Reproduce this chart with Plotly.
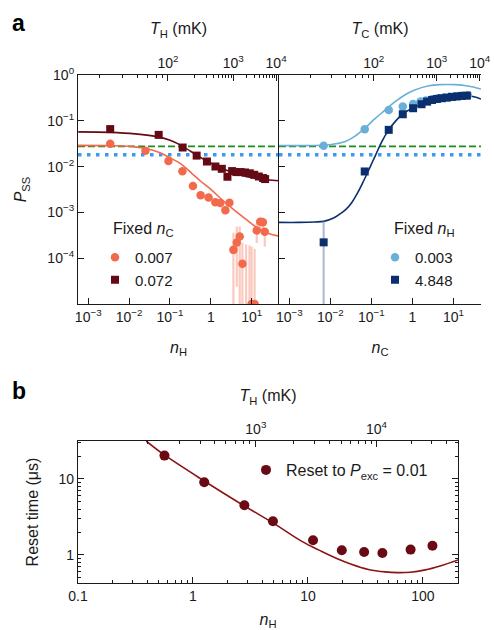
import numpy as np
import plotly.graph_objects as go

# ---------------- data: panel a, left (fixed n_C) ----------------
nH_c007 = [0.00345, 0.0252, 0.0919, 0.202, 0.365, 0.563, 0.879, 1.288, 1.707, 2.27, 2.85,
           3.57, 4.32, 5.09, 5.93, 7.3, 8.8, 9.95, 11.8, 13.3, 16.2, 18.8, 20.9]
P_c007 = [0.0314, 0.0221, 0.01318, 0.0079, 0.00378, 0.00236, 0.00212, 0.00167, 0.0016, 0.00112, 0.00163,
          1.52e-4, 2.21e-4, 2.99e-4, 7.55e-5, 3e-6, 3e-6, 1e-5, 1e-5, 4.05e-4, 6.27e-4, 6.11e-4, 3.8e-4]
P_c007_hi = [None] * 11 + [3.6e-4, 4.9e-4, 4.95e-4, 2.2e-4, 2.0e-4, 1.9e-4, 1.8e-4, 1.6e-4,
                           5.97e-4, 7.7e-4, 7.7e-4, 4.6e-4]
P_c007_lo = [None] * 11 + [1e-7, 2.4e-5, 1e-7, 1e-7, 1e-7, 1e-7, 1e-7, 1e-7,
                           2.15e-4, 4.2e-4, 4.3e-4, 1.8e-4]

nH_c072 = [0.00345, 0.053, 0.2046, 0.45, 0.803, 1.296, 1.858, 2.55, 3.32, 4.22, 5.35,
           6.9, 8.99, 11.5, 14.9, 19.0, 21.3]
P_c072 = [0.0659, 0.0493, 0.0261, 0.01738, 0.01291, 0.01005, 0.00895, 0.0060, 0.00798, 0.00759, 0.00759,
          0.00744, 0.00714, 0.00663, 0.00608, 0.00562, 0.00534]

fit_nH = [5.7e-4, 0.00345, 0.01064, 0.0248, 0.0576, 0.101, 0.1986, 0.349, 0.547, 1.017, 1.89,
          3.51, 6.9, 13.55, 25.2, 46.8]
fit_c007 = [0.0291, 0.0287, 0.0277, 0.0251, 0.0200, 0.01556, 0.01094, 0.00697, 0.00491, 0.00313, 0.00189,
            0.001175, 7.3e-4, 4.64e-4, 3.52e-4, 3.03e-4]
fit_nH2 = [5.7e-4, 0.00345, 0.0141, 0.0514, 0.101, 0.2046, 0.4375, 0.767, 1.274, 2.24, 3.93,
           6.9, 12.1, 23.8, 46.8]
fit_c072 = [0.0573, 0.0559, 0.0518, 0.0446, 0.0374, 0.0277, 0.0181, 0.01337, 0.01067, 0.00851, 0.00714,
            0.00615, 0.00556, 0.00516, 0.00491]

# ---------------- data: panel a, right (fixed n_H) ----------------
nC_h003 = [0.00687, 0.0687, 0.264, 0.58, 1.035, 1.57, 2.11, 2.96, 4.14, 5.80, 8.13, 11.4, 15.9, 22.3]
P_h003 = [0.0284, 0.0656, 0.1728, 0.204, 0.233, 0.263, 0.278, 0.296, 0.311, 0.3235, 0.335, 0.345, 0.354, 0.361]

nC_h4848 = [0.00687, 0.0687, 0.264, 0.58, 1.035, 1.66, 2.27, 3.0, 3.92, 5.19, 6.87, 9.09, 12.0, 15.9, 21.1]
P_h4848 = [2.22e-4, 0.00783, 0.0634, 0.139, 0.188, 0.23, 0.262, 0.285, 0.300, 0.311, 0.320, 0.332, 0.340, 0.349, 0.354]
P_h4848_hi = [6.4e-4] + [None] * 14
P_h4848_lo = [1e-7] + [None] * 14

fit_nC1 = [5.48e-4, 0.00313, 0.00962, 0.0223, 0.0392, 0.0687, 0.1205, 0.211, 0.370, 0.649, 1.138,
           2.36, 4.63, 10.8, 22.3, 46.3]
fit_h003 = [0.0288, 0.0288, 0.0299, 0.0347, 0.0457, 0.0683, 0.110, 0.168, 0.258, 0.367, 0.471,
            0.576, 0.615, 0.615, 0.576, 0.495]
fit_nC2 = [5.48e-4, 0.00178, 0.00414, 0.00687, 0.0120, 0.01686, 0.0236, 0.0331, 0.0463, 0.0649, 0.0910,
           0.1273, 0.178, 0.264, 0.392, 0.580, 1.017, 1.686, 2.96, 6.49, 12.7, 19.95, 31.3, 46.3]
fit_h4848 = [6.05e-4, 6.05e-4, 6.18e-4, 6.37e-4, 7.55e-4, 9.14e-4, 0.001146, 0.001626, 0.00269, 0.00491, 0.00942,
             0.0181, 0.0347, 0.0634, 0.0995, 0.1413, 0.191, 0.2275, 0.2715, 0.320, 0.349, 0.354, 0.335, 0.300]

P_green = 0.0277   # dashed reference
P_blue = 0.0181    # dotted reference

# ---------------- data: panel b ----------------
nH_b = [0.565, 1.253, 2.80, 4.96, 11.07, 19.7, 30.8, 44.4, 78.1, 121]
t_b = [20.3, 9.05, 4.51, 2.77, 1.56, 1.153, 1.094, 1.06, 1.175, 1.32]
fit_nHb = [0.392, 0.564, 1.252, 2.80, 4.96, 8.85, 12.9, 17.4, 23.5, 33.6, 47.2, 60.0, 77.7, 104.7, 141, 202]
fit_tb = [31.6, 20.7, 9.41, 4.41, 2.64, 1.505, 1.129, 0.913, 0.761, 0.644, 0.597, 0.585, 0.592, 0.635, 0.716, 0.859]

# top-axis temperature ticks (mK)
T_major = [100, 1000, 10000]
T_major_text = ['10<sup>2</sup>', '10<sup>3</sup>', '10<sup>4</sup>']
T_minor = [20, 30, 40, 50, 60, 70, 80, 90, 200, 300, 400, 500, 600, 700, 800, 900,
           2000, 3000, 4000, 5000, 6000, 7000, 8000, 9000, 20000, 30000, 40000, 50000]
hf_H = 250.0  # mK, h f_H / k_B
hf_C = 228.0  # mK, h f_C / k_B


def n_of_T(T, hf):
    return [1.0 / np.expm1(hf / t) for t in T]


# colours
C_OR = '#f26a4b'
C_MR = '#650a14'
C_LB = '#6aafd8'
C_NV = '#0b2f6e'
C_GR = '#1e8c1e'
C_BL = '#3a9af2'
C_B = '#6a0a14'
C_BL2 = '#8e1414'

FONT = 'Liberation Sans, Arial, sans-serif'
INK = '#1a1a1a'


def err(vals, hi, lo):
    plus = [0 if h is None else h - v for v, h in zip(vals, hi)]
    minus = [0 if l is None else v - l for v, l in zip(vals, lo)]
    return plus, minus


fig = go.Figure()

# ---- left panel ----
fig.add_trace(go.Scatter(x=fit_nH, y=fit_c007, mode='lines', line=dict(color=C_OR, width=1.6, shape='spline'),
                         xaxis='x', yaxis='y', showlegend=False, hoverinfo='skip'))
fig.add_trace(go.Scatter(x=fit_nH2, y=fit_c072, mode='lines', line=dict(color=C_MR, width=1.6, shape='spline'),
                         xaxis='x', yaxis='y', showlegend=False, hoverinfo='skip'))
pl, mi = err(P_c007, P_c007_hi, P_c007_lo)
fig.add_trace(go.Scatter(x=nH_c007, y=P_c007, mode='markers', name='0.007',
                         marker=dict(symbol='circle', size=8.5, color=C_OR),
                         error_y=dict(type='data', symmetric=False, array=pl, arrayminus=mi,
                                      color='rgba(246,150,128,0.5)', thickness=2.2, width=0),
                         xaxis='x', yaxis='y', legend='legend'))
fig.add_trace(go.Scatter(x=nH_c072, y=P_c072, mode='markers', name='0.072',
                         marker=dict(symbol='square', size=8, color=C_MR),
                         xaxis='x', yaxis='y', legend='legend'))

# ---- right panel ----
fig.add_trace(go.Scatter(x=fit_nC1, y=fit_h003, mode='lines', line=dict(color=C_LB, width=1.6, shape='spline'),
                         xaxis='x2', yaxis='y2', showlegend=False, hoverinfo='skip'))
fig.add_trace(go.Scatter(x=fit_nC2, y=fit_h4848, mode='lines', line=dict(color=C_NV, width=1.6, shape='spline'),
                         xaxis='x2', yaxis='y2', showlegend=False, hoverinfo='skip'))
fig.add_trace(go.Scatter(x=nC_h003, y=P_h003, mode='markers', name='0.003',
                         marker=dict(symbol='circle', size=8.5, color=C_LB),
                         xaxis='x2', yaxis='y2', legend='legend2'))
pl2, mi2 = err(P_h4848, P_h4848_hi, P_h4848_lo)
fig.add_trace(go.Scatter(x=nC_h4848, y=P_h4848, mode='markers', name='4.848',
                         marker=dict(symbol='square', size=8, color=C_NV),
                         error_y=dict(type='data', symmetric=False, array=pl2, arrayminus=mi2,
                                      color='rgba(120,145,185,0.6)', thickness=2.2, width=0),
                         xaxis='x2', yaxis='y2', legend='legend2'))

# ---- panel b ----
fig.add_trace(go.Scatter(x=fit_nHb, y=fit_tb, mode='lines', line=dict(color=C_BL2, width=1.6, shape='spline'),
                         xaxis='x3', yaxis='y3', showlegend=False, hoverinfo='skip'))
fig.add_trace(go.Scatter(x=nH_b, y=t_b, mode='markers',
                         name='Reset to <i>P</i><sub>exc</sub> = 0.01',
                         marker=dict(symbol='circle', size=10, color=C_B),
                         xaxis='x3', yaxis='y3', legend='legend3'))

# dummy traces to activate the top temperature axes
for xa, ya in (('x4', 'y'), ('x5', 'y2'), ('x6', 'y3')):
    fig.add_trace(go.Scatter(x=[], y=[], xaxis=xa, yaxis=ya, showlegend=False, hoverinfo='skip'))

# reference lines
shapes = []
for xr, yr in (('x domain', 'y'), ('x2 domain', 'y2')):
    shapes.append(dict(type='line', xref=xr, yref=yr, x0=0, x1=1, y0=P_green, y1=P_green,
                       line=dict(color=C_GR, width=1.6, dash='7px,3px'), layer='below'))
    shapes.append(dict(type='line', xref=xr, yref=yr, x0=0, x1=1, y0=P_blue, y1=P_blue,
                       line=dict(color=C_BL, width=3.5, dash='3.5px,5.5px'), layer='below'))

W, H = 494, 630
xa_left = [78 / W, 279 / W]
xa_right = [279 / W, 481 / W]
xa_b = [78 / W, 458 / W]
ya_a = [1 - 304 / H, 1 - 75 / H]
ya_b = [1 - 583 / H, 1 - 441 / H]

XR = [-3.25, 1.668]
tick_font = dict(family=FONT, size=14, color=INK)
dec_vals = [1e-3, 1e-2, 1e-1, 1, 10]
dec_text = ['10<sup>−3</sup>', '10<sup>−2</sup>', '10<sup>−1</sup>', '1', '10<sup>1</sup>']
common = dict(type='log', showline=True, linecolor=INK, linewidth=1.2, ticks='inside', ticklen=6,
              tickwidth=1.1, tickcolor=INK, showgrid=False, zeroline=False, tickfont=tick_font,
              automargin=False)

fig.update_layout(
    template='none',
    width=W, height=H, margin=dict(l=0, r=0, t=0, b=0, autoexpand=False),
    paper_bgcolor='white', plot_bgcolor='white',
    font=dict(family=FONT, color=INK),
    shapes=shapes,
    xaxis=dict(**common, domain=xa_left, anchor='y', range=XR, tickmode='array',
               tickvals=dec_vals, ticktext=dec_text,
               title=dict(text='<i>n</i><sub>H</sub>', font=dict(size=16), standoff=17)),
    xaxis2=dict(**common, domain=xa_right, anchor='y2', range=XR, tickmode='array',
                tickvals=dec_vals, ticktext=dec_text,
                title=dict(text='<i>n</i><sub>C</sub>', font=dict(size=16), standoff=17)),
    xaxis3=dict(**common, domain=xa_b, anchor='y3', range=[-1, 2.305], tickmode='array',
                tickvals=[0.1, 1, 10, 100], ticktext=['0.1', '1', '10', '100'],
                minor=dict(ticks='inside', ticklen=3, tickwidth=1, tickcolor=INK, dtick='D1', showgrid=False),
                title=dict(text='<i>n</i><sub>H</sub>', font=dict(size=16), standoff=10)),
    xaxis4=dict(**common, overlaying='x', side='top', anchor='y', range=XR, tickmode='array',
                tickvals=n_of_T(T_major, hf_H), ticktext=T_major_text,
                minor=dict(ticks='inside', ticklen=3, tickwidth=1, tickcolor=INK, tickmode='array',
                           tickvals=n_of_T(T_minor, hf_H), showgrid=False),
                title=dict(text='<i>T</i><sub>H</sub> (mK)', font=dict(size=16), standoff=14)),
    xaxis5=dict(**common, overlaying='x2', side='top', anchor='y2', range=XR, tickmode='array',
                tickvals=n_of_T(T_major, hf_C), ticktext=T_major_text,
                minor=dict(ticks='inside', ticklen=3, tickwidth=1, tickcolor=INK, tickmode='array',
                           tickvals=n_of_T(T_minor, hf_C), showgrid=False),
                title=dict(text='<i>T</i><sub>C</sub> (mK)', font=dict(size=16), standoff=14)),
    xaxis6=dict(**common, overlaying='x3', side='top', anchor='y3', range=[-1, 2.305], tickmode='array',
                tickvals=n_of_T([1000, 10000], hf_H), ticktext=['10<sup>3</sup>', '10<sup>4</sup>'],
                minor=dict(ticks='inside', ticklen=3, tickwidth=1, tickcolor=INK, tickmode='array',
                           tickvals=n_of_T(T_minor, hf_H), showgrid=False),
                title=dict(text='<i>T</i><sub>H</sub> (mK)', font=dict(size=16), standoff=13)),
    yaxis=dict(**common, domain=ya_a, anchor='x', range=[-5, 0], tickmode='array',
               tickvals=[1, 0.1, 0.01, 1e-3, 1e-4],
               ticktext=['10<sup>0</sup>', '10<sup>−1</sup>', '10<sup>−2</sup>', '10<sup>−3</sup>', '10<sup>−4</sup>'],
               title=dict(text='<i>P</i><sub>SS</sub>', font=dict(size=16), standoff=16)),
    yaxis2=dict(**common, domain=ya_a, anchor='x2', range=[-5, 0], tickmode='array',
                tickvals=[1, 0.1, 0.01, 1e-3, 1e-4], showticklabels=False),
    yaxis3=dict(**common, domain=ya_b, anchor='x3', range=[-0.37, 1.5], tickmode='array',
                tickvals=[1, 10], ticktext=['1', '10'], mirror='ticks',
                minor=dict(ticks='inside', ticklen=3, tickwidth=1, tickcolor=INK, dtick='D1', showgrid=False),
                title=dict(text='Reset time (μs)', font=dict(size=16), standoff=15)),
    legend=dict(x=95 / W, y=1 - 241 / H, xanchor='left', yanchor='top', bgcolor='rgba(0,0,0,0)',
                font=dict(size=15), tracegroupgap=0, itemwidth=30),
    legend2=dict(x=375 / W, y=1 - 241 / H, xanchor='left', yanchor='top', bgcolor='rgba(0,0,0,0)',
                 font=dict(size=15), tracegroupgap=0, itemwidth=30),
    legend3=dict(x=246 / W, y=1 - 453 / H, xanchor='left', yanchor='top', bgcolor='rgba(0,0,0,0)',
                 font=dict(size=16), itemwidth=30),
    annotations=[
        dict(text='<b>a</b>', x=10 / W, y=1 - 8 / H, xref='paper', yref='paper', xanchor='left', yanchor='top',
             showarrow=False, font=dict(size=23, family=FONT, color='black')),
        dict(text='<b>b</b>', x=10 / W, y=1 - 376 / H, xref='paper', yref='paper', xanchor='left', yanchor='top',
             showarrow=False, font=dict(size=23, family=FONT, color='black')),
        dict(text='Fixed <i>n</i><sub>C</sub>', x=111 / W, y=1 - 229 / H, xref='paper', yref='paper',
             xanchor='left', yanchor='middle', showarrow=False, font=dict(size=16, family=FONT, color=INK)),
        dict(text='Fixed <i>n</i><sub>H</sub>', x=392 / W, y=1 - 229 / H, xref='paper', yref='paper',
             xanchor='left', yanchor='middle', showarrow=False, font=dict(size=16, family=FONT, color=INK)),
    ],
)

fig.write_html('out.html', config={'displayModeBar': False},
               post_script="document.body.style.margin='0px';")
